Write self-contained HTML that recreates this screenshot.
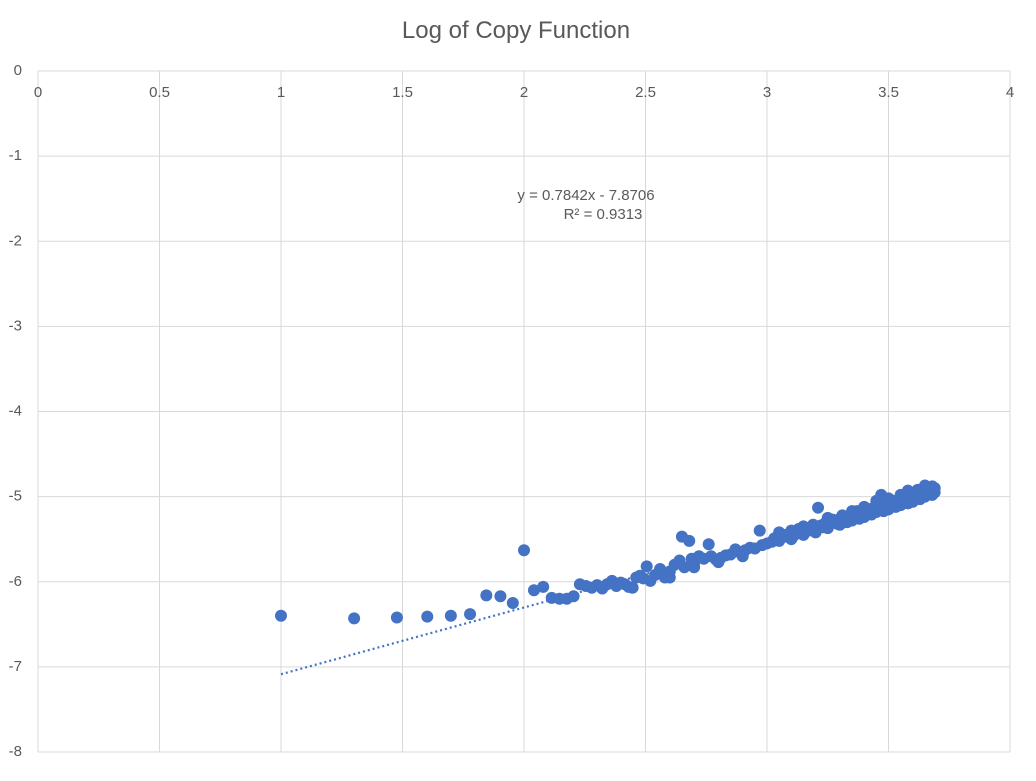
<!DOCTYPE html>
<html><head><meta charset="utf-8"><style>
body{margin:0;background:#fff;font-family:"Liberation Sans",sans-serif;}
svg text{font-family:"Liberation Sans",sans-serif;fill:#595959;}
</style></head><body>
<svg id="chart" width="1036" height="776">
<rect width="1036" height="776" fill="#fff"/>
<text x="516" y="38" font-size="24" text-anchor="middle">Log of Copy Function</text>
<g id="grid"></g><g id="ticks"></g><g id="trend"></g><g id="pts"></g>
<text x="586" y="200" font-size="15" text-anchor="middle">y = 0.7842x - 7.8706</text>
<text x="603" y="219" font-size="15" text-anchor="middle">R² = 0.9313</text>
</svg>
<script>
const xTicks=[0,0.5,1,1.5,2,2.5,3,3.5,4];
const yTicks=[0,-1,-2,-3,-4,-5,-6,-7,-8];
const slope=0.7842, intercept=-7.8706, trendRange=[1,3.69];
const xs=[1,1.301,1.477,1.602,1.699,1.778,1.845,1.903,1.954,2,2.041,2.079,2.114,2.146,2.176,2.204,2.23,2.255,2.279,2.301,2.322,2.342,2.362,2.38,2.398,2.415,2.431,2.447,2.462,2.477,2.491,2.505,
2.52,2.54,2.56,2.58,2.60,2.62,2.64,2.65,2.66,2.68,2.69,2.70,2.72,2.74,2.76,2.77,2.79,2.81,2.83,2.85,2.87,2.89,2.91,2.93,2.95,2.97,2.98,2.60,2.70,2.80,2.90,
3.00,3.02,3.04,3.06,3.08,3.10,3.12,3.14,3.16,3.18,3.20,3.21,3.22,3.24,3.26,3.28,3.30,3.32,3.34,3.36,3.38,3.40,3.42,3.44,3.46,3.48,3.50,3.52,3.54,3.56,3.58,3.60,3.62,3.64,3.66,3.68,3.69,
3.05,3.10,3.15,3.25,3.35,3.40,3.45,3.47,3.50,3.55,3.58,3.62,3.65,3.68,3.05,3.15,3.25,3.35,3.45,3.55,3.65,3.69,
3.03,3.07,3.11,3.13,3.17,3.19,3.23,3.27,3.29,3.31,3.33,3.37,3.39,3.41,3.43,3.47,3.49,3.51,3.53,3.57,3.59,3.61,3.63,3.67,
3.10,3.20,3.30,3.40,3.50,3.60,3.68,3.33,3.43,3.53,3.63,3.38,3.48,3.58];
const ys=[-6.40,-6.43,-6.42,-6.41,-6.40,-6.38,-6.16,-6.17,-6.25,-5.63,-6.10,-6.06,-6.19,-6.20,-6.20,-6.17,-6.03,-6.05,-6.07,-6.04,-6.08,-6.03,-5.99,-6.05,-6.01,-6.03,-6.06,-6.07,-5.95,-5.93,-5.96,-5.82,
-5.99,-5.92,-5.85,-5.95,-5.88,-5.80,-5.75,-5.47,-5.83,-5.52,-5.73,-5.78,-5.70,-5.73,-5.56,-5.70,-5.74,-5.72,-5.69,-5.68,-5.62,-5.66,-5.63,-5.60,-5.61,-5.40,-5.57,-5.95,-5.83,-5.77,-5.70,
-5.55,-5.53,-5.50,-5.48,-5.47,-5.44,-5.42,-5.40,-5.39,-5.37,-5.35,-5.13,-5.34,-5.31,-5.30,-5.28,-5.26,-5.24,-5.23,-5.21,-5.19,-5.17,-5.15,-5.13,-5.11,-5.10,-5.08,-5.06,-5.04,-5.02,-5.00,-4.98,-4.96,-4.94,-4.92,-4.91,-4.90,
-5.42,-5.40,-5.35,-5.25,-5.17,-5.12,-5.05,-4.98,-5.02,-4.98,-4.93,-4.92,-4.87,-4.88,-5.52,-5.45,-5.37,-5.28,-5.18,-5.10,-5.00,-4.95,
-5.49,-5.45,-5.46,-5.38,-5.40,-5.33,-5.36,-5.27,-5.32,-5.22,-5.28,-5.17,-5.23,-5.14,-5.20,-5.12,-5.14,-5.04,-5.10,-5.03,-5.05,-4.95,-4.99,-4.93,
-5.50,-5.42,-5.33,-5.24,-5.15,-5.06,-4.98,-5.30,-5.21,-5.12,-5.03,-5.26,-5.17,-5.08];
const L=38,R=1010,T=71,B=752;
const sx=v=>L+(v-0)/(4-0)*(R-L);
const sy=v=>T+(0-v)/(0+8)*(B-T);
const NS='http://www.w3.org/2000/svg';
function mk(tag,attrs,parent){const e=document.createElementNS(NS,tag);for(const k in attrs)e.setAttribute(k,attrs[k]);parent.appendChild(e);return e;}
const grid=document.getElementById('grid'),ticks=document.getElementById('ticks');
xTicks.forEach(t=>{
 const l=mk('line',{x1:sx(t),x2:sx(t),y1:T,y2:B,stroke:'#d9d9d9','stroke-width':1},grid);
 
 
 const tx=mk('text',{x:sx(t),y:T+26,'font-size':15,'text-anchor':'middle'},ticks);
 tx.textContent=t;
 
 
});
yTicks.forEach(t=>{
 const l=mk('line',{x1:L,x2:R,y1:sy(t),y2:sy(t),stroke:'#d9d9d9','stroke-width':1},grid);
 
 
 const tx=mk('text',{x:22,y:sy(t)+4,'font-size':15,'text-anchor':'end'},ticks);
 tx.textContent=t;
 
 
});
const tl=mk('line',{x1:sx(trendRange[0]),y1:sy(slope*trendRange[0]+intercept),x2:sx(trendRange[1]),y2:sy(slope*trendRange[1]+intercept),stroke:'#4472C4','stroke-width':2.2,'stroke-dasharray':'2 3'},document.getElementById('trend'));


const pts=document.getElementById('pts');
xs.forEach((x,i)=>{
 const c=mk('circle',{cx:sx(x),cy:sy(ys[i]),r:6,fill:'#4472C4'},pts);
 
 
});
</script>
</body></html>
